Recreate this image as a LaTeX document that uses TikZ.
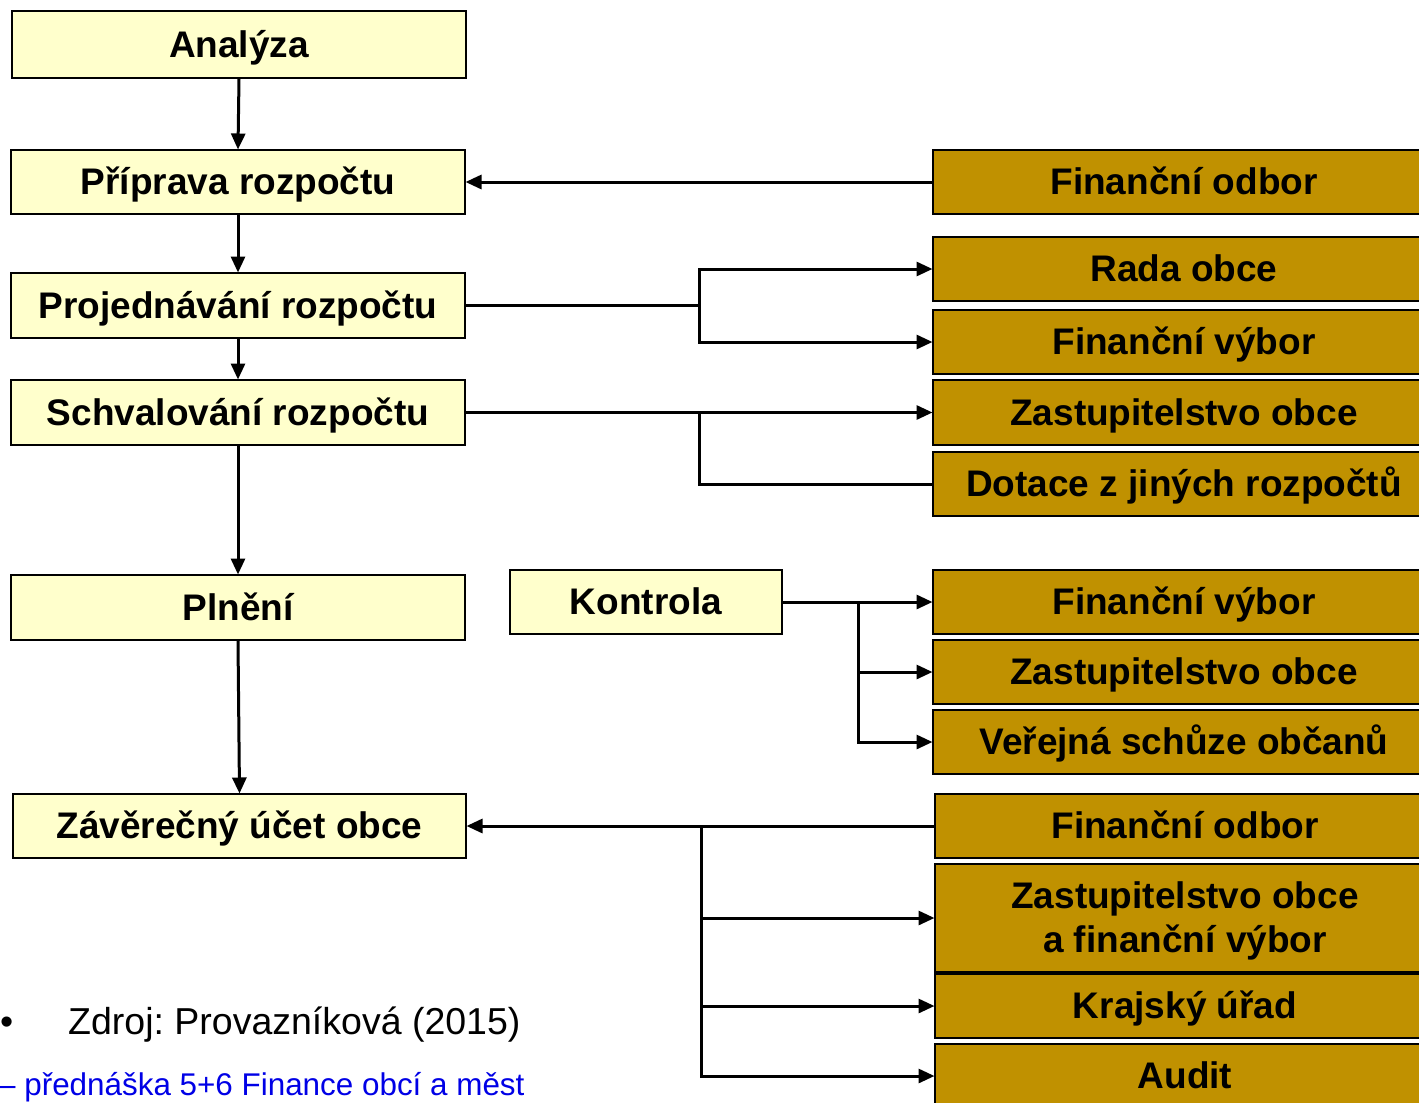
\documentclass[tikz,border=0pt]{standalone}
\usepackage{fontspec}
\setmainfont{Liberation Sans}
\usetikzlibrary{arrows.meta,calc}
\definecolor{lightyel}{RGB}{255,255,204}
\definecolor{gold}{RGB}{192,145,0}
\definecolor{srcblue}{RGB}{0,0,230}
\tikzset{
  x=1pt, y=-1pt,
  box/.style={draw=black, line width=2pt, inner sep=0pt, align=center,
    text height=25pt, text depth=0pt,
    font=\fontsize{37}{44}\selectfont\bfseries},
  ybox/.style={box, fill=lightyel, minimum width=454pt, minimum height=65pt},
  gbox/.style={box, fill=gold, minimum width=502pt, minimum height=64pt},
  ln/.style={line width=3pt, draw=black},
  arr/.style={ln, -{Triangle[length=16pt,width=14pt]}, shorten >=-0.5pt},
}
\begin{document}
\frenchspacing
\begin{tikzpicture}
\useasboundingbox (0,0) rectangle (1419,1103);
\clip (0,0) rectangle (1419,1103);
% left column
\node[ybox, minimum height=67pt] (ana) at (239,44.5) {Analýza};
\node[ybox, minimum height=64pt] (pri) at (238,182) {Příprava rozpočtu};
\node[ybox] (proj) at (238,305.5) {Projednávání rozpočtu};
\node[ybox] (schv) at (238,412.5) {Schvalování rozpočtu};
\node[ybox] (pln) at (238,607.5) {Plnění};
\node[ybox, minimum width=453pt, minimum height=64pt] (zav) at (239.5,826) {Závěrečný účet obce};
\node[ybox, minimum width=272pt, minimum height=64pt] (kon) at (646,602) {Kontrola};
% right column
\node[gbox] (fo1) at (1184,182) {Finanční odbor};
\node[gbox] (rada) at (1184,269) {Rada obce};
\node[gbox] (fv1) at (1184,342) {Finanční výbor};
\node[gbox, minimum height=65pt] (zast1) at (1184,412.5) {Zastupitelstvo obce};
\node[gbox] (dot) at (1184,484) {Dotace z jiných rozpočtů};
\node[gbox] (fv2) at (1184,602) {Finanční výbor};
\node[gbox] (zast2) at (1184,672) {Zastupitelstvo obce};
\node[gbox] (ver) at (1184,742) {Veřejná schůze občanů};
\node[gbox, minimum width=500pt] (fo2) at (1185,826) {Finanční odbor};
\node[gbox, minimum width=500pt, minimum height=108pt, text height=69pt, text depth=0pt] (zfv) at (1185,918) {Zastupitelstvo obce\\a finanční výbor};
\node[gbox, minimum width=500pt] (kraj) at (1185,1006) {Krajský úřad};
\node[gbox, minimum width=500pt] (aud) at (1185,1076) {Audit};
% junction coordinates
\coordinate (j1) at (699,0);
\coordinate (j2) at (858,0);
\coordinate (j3) at (701,0);
% vertical flow
\draw[arr] (ana.south) -- (pri.north);
\draw[arr] (pri.south) -- (proj.north);
\draw[arr] (proj.south) -- (schv.north);
\draw[arr] (schv.south) -- (pln.north);
\draw[arr] (pln.south) -- (zav.north);
% branches
\draw[arr] (fo1.west) -- (pri.east);
\draw[arr] (proj.east) -- (proj.east -| j1) |- (rada.west);
\draw[arr] (proj.east -| j1) |- (fv1.west);
\draw[arr] (schv.east) -- (zast1.west);
\draw[ln] (schv.east -| j1) |- (dot.west);
\draw[arr] (kon.east) -- (fv2.west);
\draw[arr] (kon.east -| j2) |- (zast2.west);
\draw[arr] (kon.east -| j2) |- (ver.west);
\draw[arr] (fo2.west) -- (zav.east);
\draw[arr] (zav.east -| j3) |- (zfv.west);
\draw[arr] (zav.east -| j3) |- (kraj.west);
\draw[arr] (zav.east -| j3) |- (aud.west);
% source texts
\node[anchor=base west, inner sep=0pt, font=\fontsize{37.5}{42}\selectfont] (bul) at (0,1034) {•};
\node[anchor=base west, inner sep=0pt, font=\fontsize{37.5}{42}\selectfont] (src) at (68,1034) {Zdroj: Provazníková (2015)};
\node[anchor=base west, inner sep=0pt, text=srcblue, font=\fontsize{31.4}{36}\selectfont] (lec) at (-2,1095) {– přednáška 5+6 Finance obcí a měst};
\end{tikzpicture}
\end{document}
